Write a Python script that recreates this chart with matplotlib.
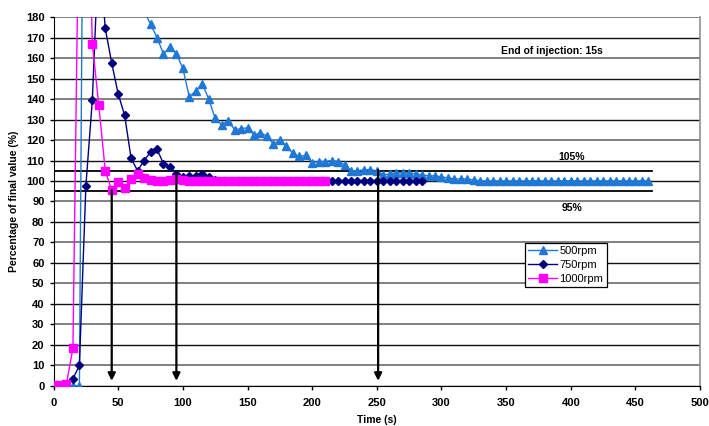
import matplotlib
matplotlib.use("Agg")
import matplotlib.pyplot as plt

plt.rcParams['font.family'] = ['Liberation Sans', 'DejaVu Sans']

time_s = [0, 5, 10, 15, 20, 25, 30, 35, 40, 45, 50, 55, 60, 65, 70, 75, 80, 85, 90, 95,
          100, 105, 110, 115, 120, 125, 130, 135, 140, 145, 150, 155, 160, 165, 170, 175,
          180, 185, 190, 195, 200, 205, 210, 215, 220, 225, 230, 235, 240, 245, 250, 255,
          260, 265, 270, 275, 280, 285, 290, 295, 300, 305, 310, 315, 320, 325, 330, 335,
          340, 345, 350, 355, 360, 365, 370, 375, 380, 385, 390, 395, 400, 405, 410, 415,
          420, 425, 430, 435, 440, 445, 450, 455, 460]

rpm500 = [0, 0, 0, 0, 0, 450, 400, 350, 310, 280, 255, 235, 215, 198, 183, 176.5, 170, 162, 165.5, 162,
          155, 141, 144, 147.5, 140, 130.5, 127.5, 129.5, 125, 125.5, 126, 122.5, 123.5, 122, 118, 120,
          117, 113.5, 112, 112.5, 109, 109.5, 109.5, 110, 109.5, 108, 105, 105, 105.5, 105.5, 105, 103,
          103.5, 104, 104, 104, 103.5, 103, 102.5, 102.5, 102, 101.5, 101, 101, 101, 100.5, 100, 100,
          100, 100, 100, 100, 100, 100, 100, 100, 100, 100, 100, 100, 100, 100, 100, 100,
          100, 100, 100, 100, 100, 100, 100, 100, 100]

rpm750 = [0, 0, 0.5, 3.5, 10, 97.5, 139.5, 215, 174.5, 157.5, 142.5, 132, 111, 105, 110, 114, 115.5, 108.5, 107, 103.5,
          102, 102.5, 102.5, 103.5, 102, 100.5, 100, 100, 100, 100, 100, 100, 100, 100, 100, 100,
          100, 100, 100, 100, 100, 100, 100, 100, 100, 100, 100, 100, 100, 100, 100, 100,
          100, 100, 100, 100, 100, 100]

rpm1000 = [0.5, 0.5, 1, 18.5, 256, 290, 167, 137, 105, 95.5, 99.5, 96.5, 100.8, 103.3, 101.3, 100.3, 100, 100, 100.5, 101,
           100.5, 100, 100, 100, 100, 100, 100, 100, 100, 100, 100, 100, 100, 100, 100, 100,
           100, 100, 100, 100, 100, 100, 100]

band_x = [0, 463]
band_hi = [105, 105]
band_lo = [95, 95]

arrow_t = [45, 95, 251]
arrow_start = [95.5, 104, 105.4]

series_labels = ['500rpm', '750rpm', '1000rpm']
xticks = [0, 50, 100, 150, 200, 250, 300, 350, 400, 450, 500]
yticks = [0, 10, 20, 30, 40, 50, 60, 70, 80, 90, 100, 110, 120, 130, 140, 150, 160, 170, 180]

fig = plt.figure(figsize=(7.09, 4.26), dpi=100)
ax = fig.add_axes([0.0755, 0.094, 0.912, 0.866])

# gridlines
for y in yticks:
    if y in (10, 30, 50, 70, 90, 120, 140, 160, 180):
        ax.axhline(y, color='#808080', lw=1.4, zorder=1)
    else:
        ax.axhline(y, color='#111111', lw=1.0, zorder=1)

ax.plot(band_x, band_hi, color='black', lw=1.3, zorder=2)
ax.plot(band_x, band_lo, color='black', lw=1.3, zorder=2)

ax.plot(time_s[:len(rpm500)], rpm500, color='#1f78d6', lw=1.0, marker='^', ms=5.5,
        mec='#1f78d6', mfc='#1f78d6', label=series_labels[0], zorder=3)
ax.plot(time_s[:len(rpm750)], rpm750, color='#00007f', lw=1.0, marker='D', ms=3.8,
        mec='#00007f', mfc='#00007f', label=series_labels[1], zorder=4)
ax.plot(time_s[:len(rpm1000)], rpm1000, color='#ff00ff', lw=1.0, marker='s', ms=5.5,
        mec='#ff00ff', mfc='#ff00ff', label=series_labels[2], zorder=5)

for t, s in zip(arrow_t, arrow_start):
    ax.annotate('', xy=(t, 2.5), xytext=(t, s),
                arrowprops=dict(arrowstyle='-|>', color='black', lw=1.6,
                                mutation_scale=11, shrinkA=0, shrinkB=0), zorder=6)

ax.text(385, 163.5, 'End of injection: 15s', fontsize=7.5, fontweight='bold',
        ha='center', va='center')
ax.text(401, 111.5, '105%', fontsize=7.5, fontweight='bold', ha='center', va='center')
ax.text(401, 87, '95%', fontsize=7.5, fontweight='bold', ha='center', va='center')

ax.set_xlim(0, 500)
ax.set_ylim(0, 180)
ax.set_xticks(xticks)
ax.set_yticks(yticks)
for lbl in ax.get_xticklabels() + ax.get_yticklabels():
    lbl.set_fontweight('bold')
ax.tick_params(axis='both', labelsize=8, direction='out', length=3, width=1, colors='black')
ax.tick_params(axis='x', pad=6)

ax.set_xlabel('Time (s)', fontsize=7.5, fontweight='bold', labelpad=5)
ax.set_ylabel('Percentage of final value (%)', fontsize=7.5, fontweight='bold', labelpad=5)

ax.spines['top'].set_visible(False)
ax.spines['right'].set_color('#909090')
ax.spines['right'].set_linewidth(1.2)
ax.spines['left'].set_color('black')
ax.spines['bottom'].set_color('black')

leg = ax.legend(loc='upper left', bbox_to_anchor=(0.729, 0.388), fontsize=8,
                frameon=True, fancybox=False, edgecolor='black', framealpha=1,
                borderpad=0.3, labelspacing=0.35, handlelength=2.6, handletextpad=0.2,
                borderaxespad=0)
leg.get_frame().set_linewidth(0.9)

fig.savefig('out.png', dpi=100)
